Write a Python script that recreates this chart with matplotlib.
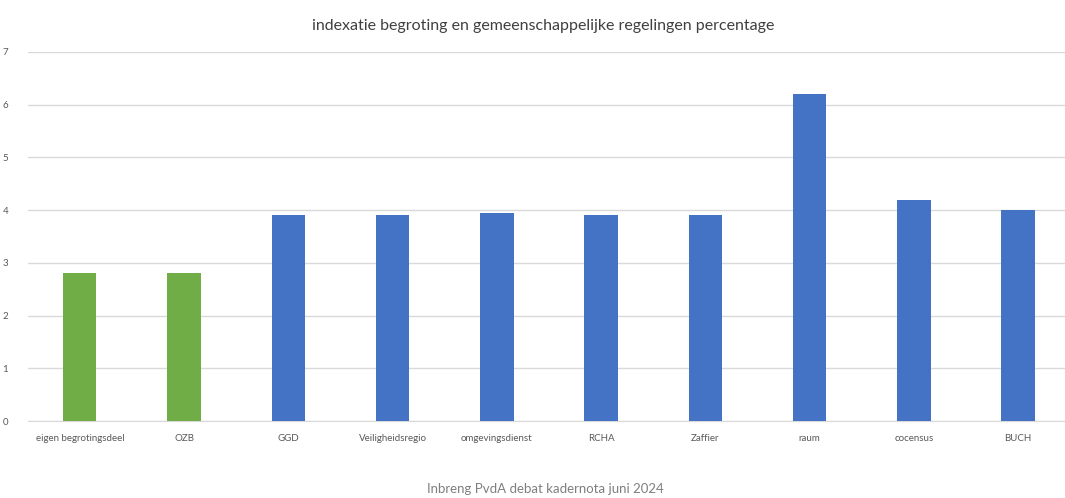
import matplotlib
matplotlib.use("Agg")
import matplotlib.pyplot as plt

plt.rcParams['font.family'] = ['Lato', 'DejaVu Sans']

categories = ["eigen begrotingsdeel", "OZB", "GGD", "Veiligheidsregio", "omgevingsdienst",
              "RCHA", "Zaffier", "raum", "cocensus", "BUCH"]
values = [2.8, 2.8, 3.9, 3.9, 3.95, 3.9, 3.9, 6.2, 4.2, 4.0]
colors = ["#70AD47", "#70AD47"] + ["#4472C4"] * 8

fig = plt.figure(figsize=(10.65, 4.98), dpi=100)
ax = fig.add_axes([0.026, 0.1546, 0.974, 0.741])

x = range(len(categories))
ax.bar(x, values, width=0.32, color=colors, zorder=3)

ax.set_ylim(0, 7)
ax.set_yticks(range(0, 8))
ax.set_xlim(-0.5, 9.45)
ax.set_xticks(list(x))
ax.set_xticklabels(categories)
ax.grid(axis='y', color='#D9D9D9', linewidth=1, zorder=0)
for s in ['top', 'right', 'left']:
    ax.spines[s].set_visible(False)
ax.spines['bottom'].set_color('#D9D9D9')
ax.tick_params(axis='both', length=0, labelsize=7, colors='#595959')
ax.tick_params(axis='x', pad=9)
ax.tick_params(axis='y', pad=14)

fig.text(0.51, 0.948, "indexatie begroting en gemeenschappelijke regelingen percentage",
         ha='center', va='center', fontsize=11.5, color='#404040')
fig.text(0.512, 0.018, "Inbreng PvdA debat kadernota juni 2024",
         ha='center', va='center', fontsize=9.5, color='#7F7F7F')

fig.savefig("out.png", dpi=100)
